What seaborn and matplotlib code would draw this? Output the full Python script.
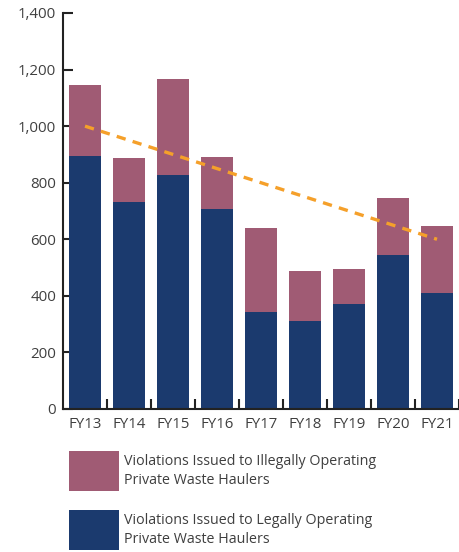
import matplotlib
matplotlib.use("Agg")
import matplotlib.pyplot as plt
import seaborn as sns
import pandas as pd
from matplotlib.patches import Rectangle
from matplotlib.ticker import FuncFormatter, FixedLocator

years = ["FY13", "FY14", "FY15", "FY16", "FY17", "FY18", "FY19", "FY20", "FY21"]
legal = [895, 733, 828, 707, 343, 311, 371, 544, 410]
illegal = [250, 154, 338, 184, 297, 177, 124, 202, 237]
trend_x = ["FY13", "FY21"]
trend_y = [1000, 600]

label_illegal = "Violations Issued to Illegally Operating\nPrivate Waste Haulers"
label_legal = "Violations Issued to Legally Operating\nPrivate Waste Haulers"

c_illegal = "#A05B74"
c_legal = "#1B3A6E"
c_trend = "#F5A02A"
txt = "#3F3F3F"

sns.set_style("white")
plt.rcParams["font.family"] = ["Open Sans", "DejaVu Sans"]

df = pd.DataFrame({"year": years, "legal": legal, "illegal": illegal})
df["total"] = df["legal"] + df["illegal"]

fig = plt.figure(figsize=(4.6, 5.52), dpi=100)
W, H = 460, 552
ax = fig.add_axes([63 / W, (H - 409) / H, 396 / W, 396 / H])

sns.barplot(data=df, x="year", y="total", color=c_illegal, width=0.727,
            saturation=1, ax=ax, edgecolor="none", linewidth=0)
sns.barplot(data=df, x="year", y="legal", color=c_legal, width=0.727,
            saturation=1, ax=ax, edgecolor="none", linewidth=0)

pos = [years.index(t) for t in trend_x]
sns.lineplot(x=pos, y=trend_y, ax=ax, color=c_trend, linewidth=2.4,
             dashes=False, linestyle=(0, (2.8, 2.2)))

ax.set_xlim(-0.5, len(years) - 0.5)
ax.set_ylim(0, 1400)
ax.set_yticks(range(0, 1401, 200))
ax.yaxis.set_major_formatter(FuncFormatter(lambda v, p: f"{int(v):,}"))
ax.set_xlabel("")
ax.set_ylabel("")

ax.xaxis.set_minor_locator(FixedLocator([i + 0.5 for i in range(len(years))]))
ax.tick_params(axis="x", which="major", length=0, pad=6, labelsize=10.8, labelcolor=txt)
ax.tick_params(axis="x", which="minor", direction="in", length=7, width=1.5,
               color="#222222", bottom=True)
ax.tick_params(axis="y", which="major", direction="in", length=7, width=1.5,
               color="#222222", pad=5, labelsize=10.8, labelcolor=txt, left=True)

sns.despine(ax=ax, top=True, right=True)
for s in ["left", "bottom"]:
    ax.spines[s].set_linewidth(1.5)
    ax.spines[s].set_color("#222222")

# legend
entries = [(c_illegal, label_illegal, 451), (c_legal, label_legal, 510)]
for col, lab, top in entries:
    fig.add_artist(Rectangle((69 / W, (H - top - 40) / H), 50 / W, 40 / H,
                             transform=fig.transFigure, facecolor=col,
                             edgecolor="none"))
    fig.text(124 / W, (H - top - 20) / H, lab, ha="left", va="center",
             fontsize=10.3, color=txt, linespacing=1.3)

fig.savefig("out.png", dpi=100)
